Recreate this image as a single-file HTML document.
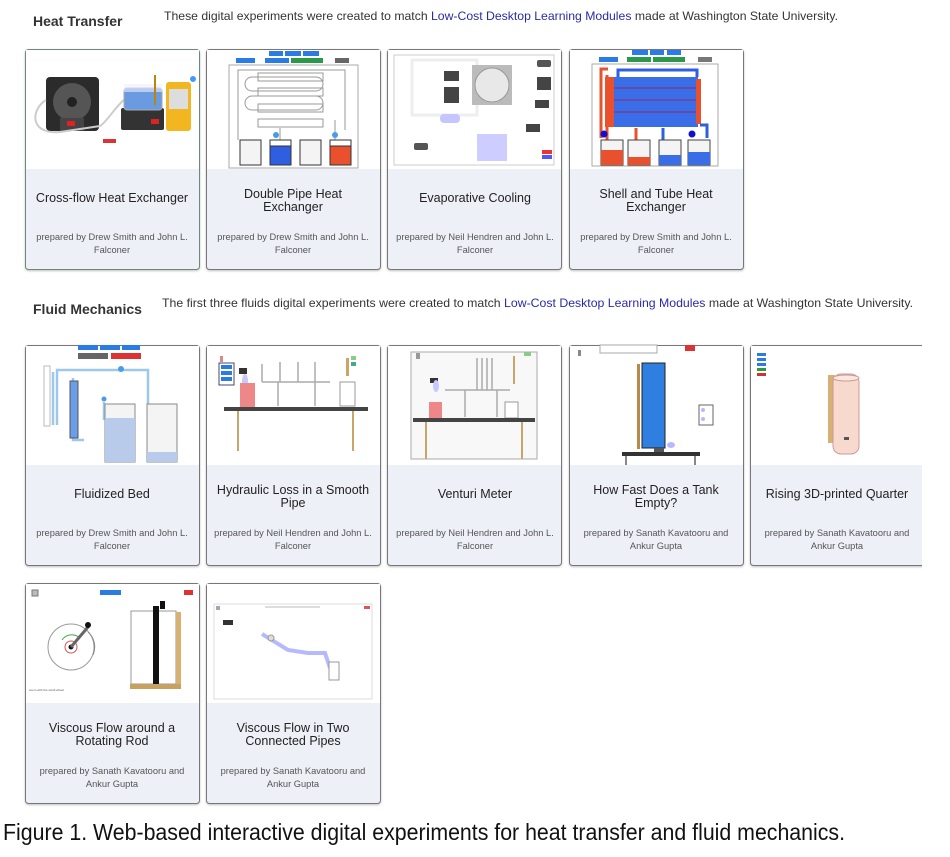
<!DOCTYPE html>
<html><head><meta charset="utf-8"><style>
html,body{margin:0;padding:0;background:#fff;width:950px;height:857px;overflow:hidden}
svg{display:block;font-family:"Liberation Sans",sans-serif}
.t{font-size:12.5px;fill:#222;text-anchor:middle}
.a{font-size:9.3px;fill:#555;text-anchor:middle}
</style></head><body>
<svg width="950" height="857" viewBox="0 0 950 857">
<defs>
<filter id="sh" x="-5%" y="-5%" width="110%" height="110%"><feDropShadow dx="0" dy="1" stdDeviation="1" flood-color="#000" flood-opacity="0.25"/></filter>
<clipPath id="clipR"><rect x="0" y="0" width="922" height="857"/></clipPath>
</defs>

<!-- Headings -->
<text x="33" y="26" font-size="14" font-weight="bold" fill="#333">Heat Transfer</text>
<text x="164" y="20" font-size="12" fill="#333" textLength="674" lengthAdjust="spacingAndGlyphs">These digital experiments were created to match <tspan fill="#2a2aa8">Low-Cost Desktop Learning Modules</tspan> made at Washington State University.</text>
<text x="33" y="314" font-size="14" font-weight="bold" fill="#333">Fluid Mechanics</text>
<text x="162" y="307" font-size="12" fill="#333" textLength="751" lengthAdjust="spacingAndGlyphs">The first three fluids digital experiments were created to match <tspan fill="#2a2aa8">Low-Cost Desktop Learning Modules</tspan> made at Washington State University.</text>

<g clip-path="url(#clipR)">
<!-- card template: rect + bottom area -->
<!-- Row 1 -->
<g filter="url(#sh)">
<rect x="25.5" y="49.5" width="174" height="220" rx="3" fill="#eef0f7" stroke="#6a8a7a"/>
<rect x="206.5" y="49.5" width="174" height="220" rx="3" fill="#eef0f7" stroke="#777"/>
<rect x="387.5" y="49.5" width="174" height="220" rx="3" fill="#eef0f7" stroke="#777"/>
<rect x="569.5" y="49.5" width="174" height="220" rx="3" fill="#eef0f7" stroke="#777"/>
<!-- Row 2 -->
<rect x="25.5" y="345.5" width="174" height="220" rx="3" fill="#eef0f7" stroke="#777"/>
<rect x="206.5" y="345.5" width="174" height="220" rx="3" fill="#eef0f7" stroke="#777"/>
<rect x="387.5" y="345.5" width="174" height="220" rx="3" fill="#eef0f7" stroke="#777"/>
<rect x="569.5" y="345.5" width="174" height="220" rx="3" fill="#eef0f7" stroke="#777"/>
<rect x="750.5" y="345.5" width="180" height="220" rx="3" fill="#eef0f7" stroke="#777"/>
<!-- Row 3 -->
<rect x="25.5" y="583.5" width="174" height="220" rx="3" fill="#eef0f7" stroke="#777"/>
<rect x="206.5" y="583.5" width="174" height="220" rx="3" fill="#eef0f7" stroke="#777"/>
</g>
<!-- image areas -->
<g fill="#fff">
<rect x="26" y="50" width="173" height="119"/>
<rect x="207" y="50" width="173" height="119"/>
<rect x="388" y="50" width="173" height="119"/>
<rect x="570" y="50" width="173" height="119"/>
<rect x="26" y="346" width="173" height="119"/>
<rect x="207" y="346" width="173" height="119"/>
<rect x="388" y="346" width="173" height="119"/>
<rect x="570" y="346" width="173" height="119"/>
<rect x="751" y="346" width="180" height="119"/>
<rect x="26" y="584" width="173" height="119"/>
<rect x="207" y="584" width="173" height="119"/>
</g>
</g>

<!-- Card 1 image: cross-flow -->
<rect x="46" y="77" width="53" height="54" rx="4" fill="#2b2b2b"/>
<circle cx="72" cy="102" r="19" fill="#555"/>
<circle cx="72" cy="102" r="5" fill="#222"/>
<rect x="60" y="118" width="24" height="13" fill="#444"/>
<rect x="67" y="121" width="8" height="5" fill="#d22"/>
<path d="M46 100 C30 110 30 135 60 132 L100 126 C110 120 120 95 140 92" stroke="#ccc" stroke-width="2" fill="none"/>
<rect x="121" y="108" width="43" height="22" rx="2" fill="#333"/>
<rect x="151" y="119" width="8" height="5" fill="#d22"/>
<rect x="124" y="88" width="38" height="22" rx="3" fill="#6a9be0" stroke="#aaa"/>
<rect x="124" y="84" width="38" height="8" fill="#eef" opacity="0.6"/>
<rect x="154" y="75" width="2" height="30" fill="#b8860b"/>
<rect x="166" y="82" width="25" height="49" rx="3" fill="#f2b620"/>
<rect x="169" y="89" width="19" height="20" fill="#ddd"/>
<circle cx="193" cy="79" r="3" fill="#49f"/>
<rect x="103" y="139" width="13" height="4" fill="#d33"/>

<!-- Card 2 image: double pipe -->
<rect x="269" y="51" width="14" height="5" fill="#2b7be6"/><rect x="285" y="51" width="16" height="5" fill="#2b7be6"/><rect x="303" y="51" width="16" height="5" fill="#2b7be6"/>
<rect x="236" y="58" width="19" height="5" fill="#2b7be6"/><rect x="265" y="58" width="24" height="5" fill="#2b7be6"/><rect x="291" y="58" width="32" height="5" fill="#2a9a4a"/><rect x="335" y="58" width="14" height="5" fill="#666"/>
<rect x="229" y="65" width="129" height="103" fill="#fff" stroke="#aaa"/>
<g stroke="#999" fill="none" stroke-width="1">
<rect x="245" y="77" width="78" height="14" rx="7"/><rect x="245" y="96" width="78" height="14" rx="7"/>
<rect x="258" y="73" width="65" height="8"/><rect x="258" y="88" width="65" height="8"/><rect x="258" y="104" width="65" height="8"/><rect x="258" y="119" width="65" height="8"/>
<path d="M238 140 L238 70 L345 70 L345 130 M335 140 L335 120 M280 140 L280 128"/>
</g>
<rect x="240" y="140" width="21" height="25" fill="#f4f4f4" stroke="#333"/>
<rect x="270" y="146" width="21" height="19" fill="#2f5fe0" stroke="#333"/><rect x="270" y="140" width="21" height="6" fill="none" stroke="#333"/>
<rect x="300" y="140" width="21" height="25" fill="#f4f4f4" stroke="#333"/>
<rect x="330" y="146" width="21" height="19" fill="#e8502e" stroke="#333"/><rect x="330" y="140" width="21" height="6" fill="none" stroke="#333"/>
<circle cx="276" cy="135" r="3" fill="#4a9be8"/><circle cx="335" cy="135" r="3" fill="#4a9be8"/>

<!-- Card 3 image: evaporative -->
<rect x="394" y="55" width="160" height="110" fill="#fff" stroke="#ccc"/>
<rect x="412" y="60" width="65" height="55" fill="none" stroke="#eee" stroke-width="3"/>
<rect x="472" y="65" width="40" height="40" fill="#bbb"/>
<circle cx="492" cy="85" r="17" fill="#e8e8e8" stroke="#999"/>
<rect x="444" y="71" width="15" height="10" fill="#444"/><rect x="444" y="87" width="15" height="16" fill="#444"/>
<rect x="537" y="60" width="14" height="7" rx="2" fill="#555"/>
<rect x="537" y="77" width="14" height="13" fill="#444"/><rect x="535" y="100" width="14" height="8" fill="#444"/><rect x="526" y="124" width="14" height="8" fill="#444"/>
<rect x="440" y="114" width="20" height="9" rx="4" fill="#c5c5ff"/>
<rect x="414" y="143" width="14" height="7" rx="2" fill="#555"/>
<rect x="477" y="134" width="30" height="27" fill="#c0c0ff" opacity="0.8"/>
<rect x="542" y="150" width="10" height="4" fill="#e33"/><rect x="542" y="155" width="10" height="4" fill="#55f"/>

<!-- Card 4 image: shell and tube -->
<rect x="632" y="50" width="16" height="5" fill="#2b7be6"/><rect x="650" y="50" width="14" height="5" fill="#2b7be6"/><rect x="667" y="50" width="14" height="5" fill="#2b7be6"/>
<rect x="599" y="57" width="19" height="5" fill="#2b7be6"/><rect x="627" y="57" width="24" height="5" fill="#2a9a4a"/><rect x="653" y="57" width="32" height="5" fill="#2a9a4a"/><rect x="698" y="57" width="14" height="5" fill="#777"/>
<rect x="592" y="64" width="126" height="102" fill="#fff" stroke="#aaa"/>
<rect x="613" y="77" width="85" height="50" fill="#3a6ee8"/>
<g stroke="#6a4aa8" stroke-width="2"><line x1="613" y1="88" x2="698" y2="88"/><line x1="613" y1="100" x2="698" y2="100"/><line x1="613" y1="112" x2="698" y2="112"/></g>
<rect x="605" y="77" width="9" height="50" fill="#e8502e"/><rect x="696" y="79" width="5" height="45" fill="#e8502e"/>
<path d="M601 138 L601 69 L608 69 M607 75 L607 160 M636 128 L636 162" stroke="#e8502e" stroke-width="3" fill="none"/>
<path d="M618 77 L618 70 L697 70 L697 77 M700 125 L707 125 L707 138 M663 128 L663 162" stroke="#2f5fe0" stroke-width="3" fill="none"/>
<rect x="601" y="140" width="22" height="25" fill="#f4f4f4" stroke="#444"/><rect x="601" y="150" width="22" height="15" fill="#e8502e"/>
<rect x="628" y="140" width="22" height="25" fill="#f4f4f4" stroke="#444"/><rect x="628" y="157" width="22" height="8" fill="#e8502e"/>
<rect x="659" y="140" width="22" height="25" fill="#f4f4f4" stroke="#444"/><rect x="659" y="155" width="22" height="10" fill="#3a6ee8"/>
<rect x="688" y="140" width="22" height="25" fill="#f4f4f4" stroke="#444"/><rect x="688" y="152" width="22" height="13" fill="#3a6ee8"/>
<circle cx="604" cy="134" r="3.5" fill="#1010d0"/><circle cx="692" cy="134" r="3.5" fill="#1010d0"/>

<!-- Row 2 card 1: fluidized bed -->
<rect x="78" y="345" width="20" height="5" fill="#2b7be6"/><rect x="100" y="345" width="20" height="5" fill="#2b7be6"/><rect x="122" y="345" width="18" height="5" fill="#2b7be6"/>
<rect x="78" y="353" width="30" height="6" fill="#666"/><rect x="111" y="353" width="30" height="6" fill="#d33"/>
<g stroke="#9cc8ec" stroke-width="2.5" fill="none"><path d="M53 425 L53 372 M57 425 L57 370 L148 370 L148 410 M73 378 L73 440 L84 440 M104 402 L104 420"/></g>
<rect x="70" y="381" width="8" height="57" fill="#6b9de8" stroke="#555"/>
<rect x="44" y="366" width="6" height="60" fill="none" stroke="#bbb"/>
<circle cx="121" cy="369" r="3" fill="#4a9be8"/><circle cx="104" cy="399" r="2.5" fill="#4a9be8"/>
<rect x="105" y="404" width="30" height="58" fill="#f4f4f4" stroke="#888"/><rect x="105" y="418" width="30" height="44" fill="#b9cbeb"/>
<rect x="147" y="404" width="30" height="58" fill="#f4f4f4" stroke="#888"/><rect x="147" y="452" width="30" height="10" fill="#b9cbeb"/>

<!-- Row 2 card 2: hydraulic loss -->
<rect x="220" y="356" width="3" height="6" fill="#d88"/>
<rect x="219" y="363" width="15" height="22" fill="#fff" stroke="#447"/>
<rect x="221" y="365" width="11" height="4" fill="#2b7be6"/><rect x="221" y="371" width="11" height="4" fill="#2b7be6"/><rect x="221" y="377" width="11" height="4" fill="#2b7be6"/>
<rect x="239" y="368" width="8" height="6" fill="#333"/>
<ellipse cx="245" cy="381" rx="3" ry="7" fill="#c8c8ff"/>
<rect x="240" y="383" width="15" height="24" fill="#e88"/>
<g stroke="#aaa" stroke-width="1.5"><line x1="262" y1="364" x2="262" y2="382"/><line x1="280" y1="362" x2="280" y2="382"/><line x1="298" y1="362" x2="298" y2="382"/><line x1="315" y1="362" x2="315" y2="382"/><line x1="262" y1="382" x2="330" y2="382"/><line x1="278" y1="382" x2="278" y2="406"/><line x1="315" y1="382" x2="315" y2="406"/></g>
<rect x="346" y="358" width="3" height="18" fill="#c9a56a"/><rect x="351" y="356" width="5" height="4" fill="#8c8"/><rect x="351" y="362" width="5" height="4" fill="#4a8"/>
<rect x="340" y="382" width="15" height="24" fill="#fff" stroke="#999"/>
<rect x="224" y="407" width="144" height="4" fill="#444"/>
<rect x="237" y="411" width="2" height="40" fill="#c9a56a"/><rect x="352" y="411" width="2" height="40" fill="#c9a56a"/>

<!-- Row 2 card 3: venturi -->
<rect x="411" y="352" width="126" height="107" fill="#f8f8f8" stroke="#aaa"/>
<rect x="416" y="353" width="4" height="6" fill="#999"/>
<rect x="513" y="356" width="2" height="28" fill="#c9a56a"/><rect x="524" y="352" width="7" height="4" fill="#8c8"/>
<rect x="430" y="378" width="8" height="5" fill="#333"/><ellipse cx="436" cy="386" rx="3" ry="6" fill="#c8c8ff"/>
<rect x="429" y="402" width="13" height="16" fill="#e88"/>
<g stroke="#aaa" stroke-width="1.5"><line x1="477" y1="358" x2="477" y2="390"/><line x1="482" y1="358" x2="482" y2="390"/><line x1="487" y1="358" x2="487" y2="390"/><line x1="492" y1="358" x2="492" y2="390"/><line x1="445" y1="390" x2="510" y2="390"/><line x1="465" y1="390" x2="465" y2="417"/><line x1="497" y1="390" x2="497" y2="417"/></g>
<rect x="505" y="402" width="13" height="16" fill="#fff" stroke="#999"/>
<rect x="413" y="418" width="122" height="4" fill="#444"/>
<rect x="425" y="422" width="2" height="37" fill="#c9a56a"/><rect x="521" y="422" width="2" height="37" fill="#c9a56a"/>

<!-- Row 2 card 4: tank empty -->
<rect x="578" y="350" width="3" height="6" fill="#888"/>
<rect x="600" y="345" width="57" height="8" fill="#fff" stroke="#aaa"/>
<rect x="685" y="345" width="10" height="6" fill="#d33"/>
<rect x="637" y="364" width="3" height="85" fill="#b88a4a"/>
<rect x="642" y="363" width="23" height="85" fill="#2f7fe0" stroke="#222"/>
<rect x="699" y="405" width="14" height="20" fill="#fff" stroke="#666"/>
<circle cx="703" cy="410" r="2" fill="#b8b8ff"/><circle cx="703" cy="419" r="2" fill="#b8b8ff"/>
<ellipse cx="671" cy="445" rx="4" ry="3" fill="#b8b8ff"/>
<rect x="654" y="448" width="10" height="4" fill="#555"/>
<rect x="622" y="452" width="78" height="4" fill="#333"/>
<rect x="625" y="456" width="2" height="9" fill="#888"/><rect x="694" y="456" width="2" height="9" fill="#888"/>

<!-- Row 2 card 5: rising quarter -->
<rect x="757" y="353" width="9" height="3" fill="#2b7be6"/><rect x="757" y="358" width="9" height="3" fill="#2b7be6"/><rect x="757" y="363" width="9" height="3" fill="#2b7be6"/><rect x="757" y="368" width="9" height="3" fill="#2a9a4a"/><rect x="757" y="373" width="9" height="3" fill="#c33"/>
<rect x="828" y="375" width="7" height="68" fill="#d9b074"/>
<rect x="833" y="374" width="26" height="80" rx="8" fill="#f7d9cd" stroke="#c99"/>
<ellipse cx="846" cy="378" rx="13" ry="3" fill="#fae7de" stroke="#c99"/>
<rect x="844" y="437" width="5" height="3" fill="#555"/>

<!-- Row 3 card 1: rotating rod -->
<rect x="32" y="590" width="6" height="6" fill="#bbb" stroke="#777"/>
<rect x="100" y="590" width="21" height="5" fill="#2b7be6"/><rect x="184" y="590" width="9" height="5" fill="#d33"/>
<circle cx="71" cy="647" r="23" fill="none" stroke="#999"/>
<circle cx="71" cy="647" r="6" fill="none" stroke="#d55"/>
<path d="M62 640 A12 12 0 0 1 80 638" stroke="#4a4" fill="none"/>
<path d="M88 632 A20 20 0 0 1 93 655" stroke="#888" fill="none"/>
<circle cx="71" cy="647" r="2.5" fill="#111"/>
<line x1="71" y1="647" x2="88" y2="627" stroke="#666" stroke-width="3"/>
<circle cx="88" cy="625" r="3" fill="#111"/>
<rect x="131" y="611" width="45" height="73" fill="#fff" stroke="#999"/>
<rect x="153" y="606" width="6" height="78" fill="#111"/>
<rect x="160" y="601" width="5" height="8" fill="#111"/>
<rect x="176" y="612" width="5" height="76" fill="#d9b074"/>
<rect x="130" y="684" width="51" height="5" fill="#c8a060"/>
<text x="29" y="691" font-size="3" fill="#555">zoom with the scroll wheel</text>

<!-- Row 3 card 2: two pipes -->
<rect x="214" y="604" width="158" height="95" fill="#fff" stroke="#ddd"/>
<rect x="216" y="606" width="4" height="4" fill="#9ab"/><rect x="364" y="606" width="6" height="3" fill="#d55"/>
<line x1="265" y1="607" x2="320" y2="607" stroke="#bbb"/>
<rect x="223" y="620" width="10" height="5" fill="#333"/>
<path d="M262 634 L288 650 L308 653 L325 653 L330 668" stroke="#b8b8ff" stroke-width="4" fill="none"/>
<circle cx="271" cy="638" r="3" fill="#ddd" stroke="#999"/>
<rect x="329" y="662" width="10" height="18" fill="#fff" stroke="#999"/>

<!-- Card texts Row 1 -->
<text class="t" x="112" y="202">Cross-flow Heat Exchanger</text>
<text class="a" x="112" y="240">prepared by Drew Smith and John L.</text><text class="a" x="112" y="253">Falconer</text>
<text class="t" x="293" y="198">Double Pipe Heat</text><text class="t" x="293" y="211">Exchanger</text>
<text class="a" x="293" y="240">prepared by Drew Smith and John L.</text><text class="a" x="293" y="253">Falconer</text>
<text class="t" x="475" y="202">Evaporative Cooling</text>
<text class="a" x="475" y="240">prepared by Neil Hendren and John L.</text><text class="a" x="475" y="253">Falconer</text>
<text class="t" x="656" y="198">Shell and Tube Heat</text><text class="t" x="656" y="211">Exchanger</text>
<text class="a" x="656" y="240">prepared by Drew Smith and John L.</text><text class="a" x="656" y="253">Falconer</text>

<!-- Row 2 -->
<text class="t" x="112" y="498">Fluidized Bed</text>
<text class="a" x="112" y="536">prepared by Drew Smith and John L.</text><text class="a" x="112" y="549">Falconer</text>
<text class="t" x="293" y="494">Hydraulic Loss in a Smooth</text><text class="t" x="293" y="507">Pipe</text>
<text class="a" x="293" y="536">prepared by Neil Hendren and John L.</text><text class="a" x="293" y="549">Falconer</text>
<text class="t" x="475" y="498">Venturi Meter</text>
<text class="a" x="475" y="536">prepared by Neil Hendren and John L.</text><text class="a" x="475" y="549">Falconer</text>
<text class="t" x="656" y="494">How Fast Does a Tank</text><text class="t" x="656" y="507">Empty?</text>
<text class="a" x="656" y="536">prepared by Sanath Kavatooru and</text><text class="a" x="656" y="549">Ankur Gupta</text>
<text class="t" x="837" y="498">Rising 3D-printed Quarter</text>
<text class="a" x="837" y="536">prepared by Sanath Kavatooru and</text><text class="a" x="837" y="549">Ankur Gupta</text>

<!-- Row 3 -->
<text class="t" x="112" y="732">Viscous Flow around a</text><text class="t" x="112" y="745">Rotating Rod</text>
<text class="a" x="112" y="774">prepared by Sanath Kavatooru and</text><text class="a" x="112" y="787">Ankur Gupta</text>
<text class="t" x="293" y="732">Viscous Flow in Two</text><text class="t" x="293" y="745">Connected Pipes</text>
<text class="a" x="293" y="774">prepared by Sanath Kavatooru and</text><text class="a" x="293" y="787">Ankur Gupta</text>

<!-- Caption -->
<text x="3" y="840" font-size="23" fill="#111" textLength="842" lengthAdjust="spacingAndGlyphs">Figure 1. Web-based interactive digital experiments for heat transfer and fluid mechanics.</text>
</svg>
</body></html>
